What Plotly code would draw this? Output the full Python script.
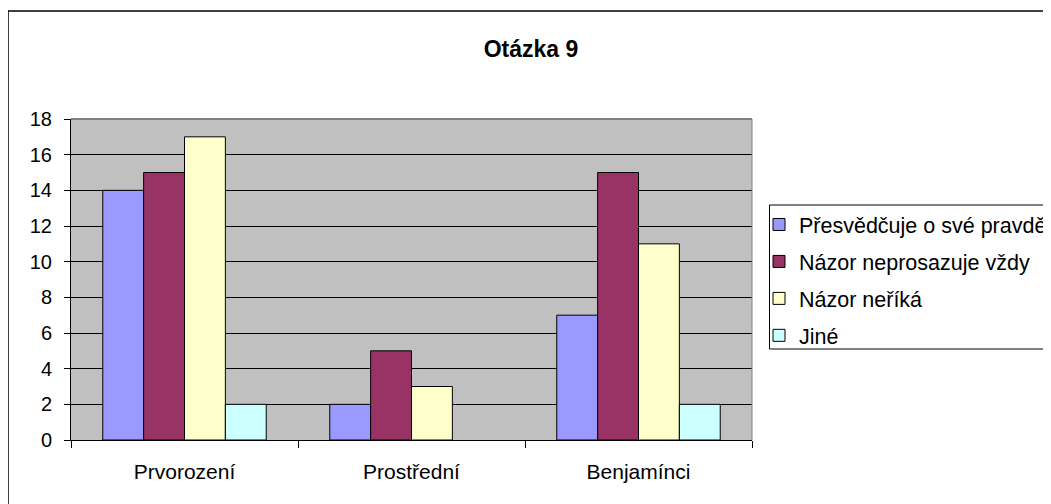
import plotly.graph_objects as go

categories = ["Prvorození", "Prostřední", "Benjamínci"]
series_names = ["Přesvědčuje o své pravdě", "Názor neprosazuje vždy", "Názor neříká", "Jiné"]
values_presvedcuje = [14, 2, 7]
values_neprosazuje = [15, 5, 15]
values_nerika = [17, 3, 11]
values_jine = [2, 0, 2]
colors = ["#9999FF", "#993366", "#FFFFCC", "#CCFFFF"]
y_ticks = [0, 2, 4, 6, 8, 10, 12, 14, 16, 18]

all_values = [values_presvedcuje, values_neprosazuje, values_nerika, values_jine]

fig = go.Figure()
for name, vals, col in zip(series_names, all_values, colors):
    fig.add_trace(go.Bar(
        x=categories, y=vals, name=name, legendgroup=name,
        marker=dict(color=col,
                    line=dict(color="#000000", width=[1 if v else 0 for v in vals])),
    ))

# page body has an 8px margin, so figure coordinates are offset by -8
OFF = 8
W, H = 1051, 504
L, R, T, B = 71 - OFF, 752 - OFF, 119 - OFF, 440 - OFF
PW, PH = R - L, B - T


def px_x(x):
    return (x - OFF - L) / PW


def px_y(y):
    return (B - (y - OFF)) / PH


fig.update_layout(
    width=W, height=H,
    margin=dict(l=L, r=W - R, t=T, b=H - B, pad=0, autoexpand=False),
    paper_bgcolor="white",
    plot_bgcolor="#C0C0C0",
    barmode="group",
    bargap=0.28,
    bargroupgap=0,
    font=dict(family="Liberation Sans, Arial, sans-serif", size=20, color="#000000"),
    title=dict(text="<b>Otázka 9</b>", font=dict(size=23, color="#000000"),
               xref="container", x=(531 - OFF) / W, xanchor="center",
               yref="container", y=1 - (49 - OFF) / H, yanchor="middle"),
    showlegend=True,
    legend=dict(
        x=px_x(759), xanchor="left",
        y=px_y(204), yanchor="top",
        borderwidth=0, bgcolor="rgba(0,0,0,0)",
        font=dict(size=21.5), tracegroupgap=6,
        traceorder="grouped",
        itemwidth=30,
    ),
    xaxis=dict(
        showgrid=False, showline=True, linecolor="#000000", linewidth=1,
        ticks="outside", tickson="boundaries", ticklen=7, tickcolor="#000000",
        tickfont=dict(size=21), zeroline=False, ticklabelstandoff=13,
    ),
    yaxis=dict(
        range=[0, 18], tickvals=y_ticks, showgrid=True, gridcolor="#000000", gridwidth=1,
        showline=True, linecolor="#000000", linewidth=1,
        ticks="outside", ticklen=6, tickcolor="#000000",
        tickfont=dict(size=20), zeroline=False, ticklabelstandoff=8,
    ),
    shapes=[
        dict(type="line", xref="paper", yref="paper", x0=0, x1=1, y0=1, y1=1,
             line=dict(color="#808080", width=2)),
        dict(type="line", xref="paper", yref="paper", x0=1, x1=1, y0=0, y1=1,
             line=dict(color="#808080", width=1)),
        # outer chart border
        dict(type="rect", xref="paper", yref="paper",
             x0=px_x(8), x1=1.6, y0=-0.5, y1=px_y(11),
             line=dict(color="#000000", width=1.5), layer="below"),
        # legend border
        dict(type="rect", xref="paper", yref="paper",
             x0=px_x(769.5), x1=1.6, y0=px_y(349), y1=px_y(205),
             line=dict(color="#000000", width=1), layer="below"),
    ],
)

fig.write_html("out.html")
